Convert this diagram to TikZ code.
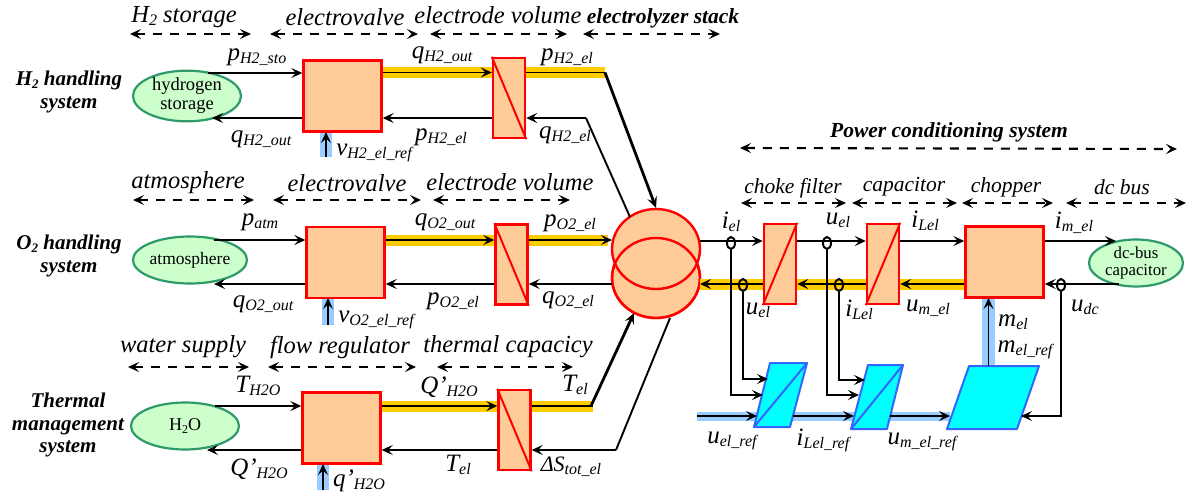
\documentclass[tikz,border=0pt]{standalone}
\usepackage{fontspec}
\setmainfont{Liberation Serif}
\usetikzlibrary{arrows.meta,shapes.geometric}
\definecolor{boxfill}{HTML}{FFCC99}
\definecolor{elfill}{HTML}{CCFFCC}
\definecolor{eldraw}{HTML}{2E9A6A}
\definecolor{band}{HTML}{FFCC00}
\definecolor{ctrl}{HTML}{99CCFF}
\definecolor{invfill}{HTML}{00FFFF}
\definecolor{invdraw}{HTML}{3366FF}
\newcommand\lb[2]{\textit{\fontsize{25}{25}\selectfont #1\raisebox{-3pt}{\fontsize{16}{16}\selectfont #2}}}
\tikzset{
  tip/.style={-{Stealth[length=11pt,width=10pt,inset=4.5pt]}},
  conn/.style={tip,line width=1.9pt,black},
  thick conn/.style={tip,line width=2.8pt,black},
  bigbox/.style={draw=red,fill=boxfill,line width=2.4pt,minimum width=78pt,minimum height=71pt,inner sep=0pt},
  narrow/.style={draw=red,fill=boxfill,line width=2.4pt,minimum width=32pt,minimum height=80pt,inner sep=0pt},
  env/.style={ellipse,draw=eldraw,fill=elfill,line width=2.2pt,minimum width=108pt,minimum height=47pt,inner sep=0pt,align=center,font=\fontsize{18.5}{19}\selectfont},
  sensor/.style={ellipse,draw=black,line width=2pt,minimum width=8pt,minimum height=12pt,inner sep=0pt},
  span/.style={{Stealth[length=11pt,width=10pt,inset=4.5pt]}-{Stealth[length=11pt,width=10pt,inset=4.5pt]},line width=2.1pt,dash pattern=on 9pt off 8pt,black},
  yband/.style={line width=11pt,band},
  cband/.style={line width=9pt,ctrl},
  redline/.style={draw=red,line width=2pt},
  inv/.style={draw=invdraw,fill=invfill,line width=2pt,line join=round},
  invline/.style={draw=invdraw,line width=2pt},
  head/.style={font=\itshape\fontsize{24.5}{24.5}\selectfont,inner sep=0pt},
  shead/.style={font=\itshape\fontsize{21.5}{21.5}\selectfont,inner sep=0pt},
  bhead/.style={font=\bfseries\itshape\fontsize{21.5}{21.5}\selectfont,inner sep=0pt},
  side/.style={font=\bfseries\itshape\fontsize{21}{22.5}\selectfont,align=center,inner sep=0pt},
  sig/.style={inner sep=0pt},
}
\begin{document}
\begin{tikzpicture}[x=1pt,y=-1pt]
\useasboundingbox[fill=white] (0,0) rectangle (1186,493);

% span arrows
\foreach \a/\b/\y in {130/251/34,270/418/34,430/567/34,583/720/34,
  133/254/200,273/421/200,433/570/200,
  128/249/367,268/416/367,437/573/367,
  741/846/203,852/957/203,962/1053/203,1066/1186/203}
  {\draw[span] (\a,\y) -- (\b,\y);}
\coordinate (pcsL) at (740,148);
\coordinate (pcsR) at (1177,149);
\draw[span] (pcsL) -- (pcsR);

% control stubs (behind the boxes)
\coordinate (s1) at (326,157);
\coordinate (s2) at (328,325);
\coordinate (s3) at (323,490);
\coordinate (cb0) at (697,416);
\coordinate (cb1) at (950,416);
\coordinate (cb2) at (988.5,366);
\coordinate (cb3) at (988.5,298);
\draw[line width=12pt,ctrl] (s1) -- (326,130);
\draw[line width=12pt,ctrl] (s2) -- (328,296);
\draw[line width=12pt,ctrl] (s3) -- (323,462);
\draw[cband] (cb0) -- (cb1);
\draw[line width=13pt,ctrl] (cb2) -- (cb3);

% boxes
\node[bigbox] (B1) at (342.5,96) {};
\node[narrow] (N1) at (509,98) {};
\node[bigbox] (B2) at (345.5,262.5) {};
\node[narrow] (N2) at (511.5,264.5) {};
\node[bigbox] (B3) at (341.5,428) {};
\node[narrow] (N3) at (514.5,430) {};
\node[narrow] (C1) at (780,264) {};
\node[narrow] (C2) at (883,264) {};
\node[bigbox] (CH) at (1004.5,262) {};

% storage ellipses
\node[env] (E1) at (187,96) {hydrogen\\storage};
\node[env,font=\fontsize{17.5}{18}\selectfont] (E2) at (190,260) {atmosphere};
\node[env,font=\fontsize{18}{18}\selectfont] (E3) at (185,426) {H\raisebox{-2.5pt}{\fontsize{12}{12}\selectfont 2}O};
\node[env,minimum width=94pt,minimum height=47pt,font=\fontsize{16.8}{17.5}\selectfont] (E4) at (1136,263) {dc-bus\\capacitor};

% electrolyzer
\node[ellipse,draw=red,fill=boxfill,line width=2.4pt,minimum width=88pt,minimum height=80pt,inner sep=0pt] (LO) at (656,278) {};
\node[ellipse,draw=red,fill=boxfill,line width=2.4pt,minimum width=88pt,minimum height=80pt,inner sep=0pt] (UP) at (656,249) {};
\draw[red,line width=2.4pt] (LO.center) ellipse (44 and 40);

% diagonals
\draw[redline] (N1.north west) -- (N1.south east);
\draw[redline] (N2.north west) -- (N2.south east);
\draw[redline] (N3.north west) -- (N3.south east);
\draw[redline] (C1.south west) -- (C1.north east);
\draw[redline] (C2.south west) -- (C2.north east);

% inverse blocks
\coordinate (P1bl) at (754,427); \coordinate (P1br) at (790,427);
\coordinate (P1tr) at (807,363); \coordinate (P1tl) at (770,363);
\coordinate (P2bl) at (851,429); \coordinate (P2br) at (887,429);
\coordinate (P2tr) at (903,365); \coordinate (P2tl) at (868,365);
\coordinate (P3bl) at (947,429); \coordinate (P3br) at (1017,429);
\coordinate (P3tr) at (1039,366); \coordinate (P3tl) at (969,366);
\draw[inv] (P1bl) -- (P1br) -- (P1tr) -- (P1tl) -- cycle;
\draw[invline] (P1bl) -- (P1tr);
\draw[inv] (P2bl) -- (P2br) -- (P2tr) -- (P2tl) -- cycle;
\draw[invline] (P2bl) -- (P2tr);
\draw[inv] (P3bl) -- (P3br) -- (P3tr) -- (P3tl) -- cycle;

% energy bands
\coordinate (Y1) at (605,72.5);
\coordinate (Y2) at (608,240);
\coordinate (Y3) at (593,406);
\coordinate (Y1i) at (586,118);
\coordinate (Y3i) at (616,450);
\coordinate (Y4) at (700,284);
\draw[yband] ([yshift=23.5pt]B1.east) -- ([yshift=25.5pt]N1.west);
\draw[yband] ([yshift=25.5pt]N1.east) -- (Y1);
\draw[yband] ([yshift=22.5pt]B2.east) -- ([yshift=24.5pt]N2.west);
\draw[yband] ([yshift=24.5pt]N2.east) -- (Y2);
\draw[yband] ([yshift=22pt]B3.east) -- ([yshift=24pt]N3.west);
\draw[yband] ([yshift=24pt]N3.east) -- (Y3);
\draw[yband] (Y4) -- ([yshift=-20pt]C1.west);
\draw[yband] ([yshift=-20pt]C1.east) -- ([yshift=-20pt]C2.west);
\draw[yband] ([yshift=-20pt]C2.east) -- ([yshift=-22pt]CH.west);

% row 1
\draw[conn] ([shift={(21,-23)}]E1.center) -- ([yshift=23pt]B1.west);
\draw[conn] ([yshift=-22pt]B1.west) -- ([shift={(25,22)}]E1.center);
\draw[conn] ([yshift=23.5pt]B1.east) -- ([yshift=25.5pt]N1.west);
\draw[conn] ([yshift=-20pt]N1.west) -- ([yshift=-22pt]B1.east);
\draw[line width=1.9pt] ([yshift=25.5pt]N1.east) -- (Y1);
\draw[thick conn] (Y1) -- (UP.north);
\draw[conn] (Y1i) -- ([yshift=-20pt]N1.east);
\draw[line width=1.9pt] (Y1i) -- (630,217);
\draw[conn] (s1) -- (326,132);
% row 2
\draw[conn] ([shift={(24,-20)}]E2.center) -- ([yshift=22.5pt]B2.west);
\draw[conn] ([yshift=-21.5pt]B2.west) -- ([shift={(24,24)}]E2.center);
\draw[conn] ([yshift=22.5pt]B2.east) -- ([yshift=24.5pt]N2.west);
\draw[conn] ([yshift=-19.5pt]N2.west) -- ([yshift=-21.5pt]B2.east);
\draw[conn] ([yshift=24.5pt]N2.east) -- (612,240);
\draw[conn] (612,284) -- ([yshift=-19.5pt]N2.east);
\draw[conn] (s2) -- (328,298);
% row 3
\draw[conn] ([shift={(30,-20)}]E3.center) -- ([yshift=22pt]B3.west);
\draw[conn] ([yshift=-22pt]B3.west) -- ([shift={(22,24)}]E3.center);
\draw[conn] ([yshift=22pt]B3.east) -- ([yshift=24pt]N3.west);
\draw[conn] ([yshift=-20pt]N3.west) -- ([yshift=-22pt]B3.east);
\draw[line width=1.9pt] ([yshift=24pt]N3.east) -- (Y3);
\draw[thick conn] (591,406) -- (634,313);
\draw[conn] (Y3i) -- ([yshift=-20pt]N3.east);
\draw[line width=1.9pt] (Y3i) -- (670,318);
\draw[conn] (s3) -- (323,464);

% power conditioning, forward
\draw[conn] (700,241) -- ([yshift=23pt]C1.west);
\draw[conn] ([yshift=23pt]C1.east) -- ([yshift=23pt]C2.west);
\draw[conn] ([yshift=23pt]C2.east) -- ([yshift=21pt]CH.west);
\draw[conn] ([yshift=21pt]CH.east) -- ([shift={(-20,-22)}]E4.center);
% power conditioning, return
\draw[conn] ([shift={(-17,21)}]E4.center) -- ([yshift=-22pt]CH.east);
\draw[conn] ([yshift=-22pt]CH.west) -- ([yshift=-20pt]C2.east);
\draw[conn] ([yshift=-20pt]C2.west) -- ([yshift=-20pt]C1.east);
\draw[conn] ([yshift=-20pt]C1.west) -- (Y4);

% sensors
\node[sensor] (S1) at (731,243) {};
\node[sensor] (S2) at (827,243) {};
\node[sensor] (S3) at (743,285) {};
\node[sensor] (S4) at (839,285) {};
\node[sensor] (S5) at (1061,285) {};
\coordinate (T1a) at (763,395); \coordinate (T1b) at (768,379);
\coordinate (T2a) at (859,395); \coordinate (T2b) at (865,380);
\coordinate (T3) at (1021,416);
\draw[conn] (S1.south) |- (T1a);
\draw[conn] (S3.south) |- (T1b);
\draw[conn] (S2.south) |- (T2a);
\draw[conn] (S4.south) |- (T2b);
\draw[conn] (S5.south) |- (T3);

% reference chain
\draw[conn] (cb0) -- (757,416);
\draw[conn] (793,416) -- (854,416);
\draw[conn] (890,416) -- (950,416);
\draw[conn] (cb2) -- (cb3);

% section headings
\node[head] (h1) at (184,17) {H\raisebox{-3pt}{\fontsize{16}{16}\selectfont 2} storage};
\node[head] (h2) at (345,17) {electrovalve};
\node[head] (h3) at (498,15) {electrode volume};
\node[bhead] (h4) at (663,18) {electrolyzer stack};
\node[head] (h5) at (188,183) {atmosphere};
\node[head] (h6) at (347,183) {electrovalve};
\node[head] (h7) at (510,182) {electrode volume};
\node[head] (h8) at (183,347) {water supply};
\node[head] (h9) at (340,347) {flow regulator};
\node[head] (h10) at (508,347) {thermal capacicy};
\node[bhead] (h11) at (949,132) {Power conditioning system};
\node[shead] (h12) at (793,188) {choke filter};
\node[shead] (h13) at (904,187) {capacitor};
\node[shead] (h14) at (1006,187) {chopper};
\node[shead] (h15) at (1122,187) {dc bus};
% system names
\node[side] (n1) at (69,92) {H\raisebox{-3pt}{\fontsize{13}{13}\selectfont 2} handling\\system};
\node[side] (n2) at (69,256) {O\raisebox{-3pt}{\fontsize{13}{13}\selectfont 2} handling\\system};
\node[side] (n3) at (68,425) {Thermal\\management\\system};
% signals row 1
\node[sig] (a1) at (257,57) {\lb{p}{H2\_sto}};
\node[sig] (a2) at (261,139) {\lb{q}{H2\_out}};
\node[sig] (a3) at (374,153) {\lb{v}{H2\_el\_ref}};
\node[sig] (a4) at (442,55) {\lb{q}{H2\_out}};
\node[sig] (a5) at (567,57) {\lb{p}{H2\_el}};
\node[sig] (a6) at (441,137) {\lb{p}{H2\_el}};
\node[sig] (a7) at (565,135) {\lb{q}{H2\_el}};
% signals row 2
\node[sig] (b1) at (260,222) {\lb{p}{atm}};
\node[sig] (b2) at (263,304) {\lb{q}{O2\_out}};
\node[sig] (b3) at (376,320) {\lb{v}{O2\_el\_ref}};
\node[sig] (b4) at (445,222) {\lb{q}{O2\_out}};
\node[sig] (b5) at (570,223) {\lb{p}{O2\_el}};
\node[sig] (b6) at (453,301) {\lb{p}{O2\_el}};
\node[sig] (b7) at (568,300) {\lb{q}{O2\_el}};
% signals row 3
\node[sig] (c1) at (258,386) {\lb{T}{H2O}};
\node[sig] (c2) at (259,469) {\lb{Q'}{H2O}};
\node[sig] (c3) at (359,481) {\lb{q'}{H2O}};
\node[sig] (c4) at (449,387) {\lb{Q'}{H2O}};
\node[sig] (c5) at (575,385) {\lb{T}{el}};
\node[sig] (c6) at (458,465) {\lb{T}{el}};
\node[sig] (c7) at (571,467) {\textit{\fontsize{22}{22}\selectfont ΔS\raisebox{-3pt}{\fontsize{16}{16}\selectfont tot\_el}}};
% signals power side
\node[sig] (d1) at (731,222) {\lb{i}{el}};
\node[sig] (d2) at (838,220) {\lb{u}{el}};
\node[sig] (d3) at (925,221) {\lb{i}{Lel}};
\node[sig] (d4) at (1074,223) {\lb{i}{m\_el}};
\node[sig] (d5) at (758,310) {\lb{u}{el}};
\node[sig] (d6) at (859,310) {\lb{i}{Lel}};
\node[sig] (d7) at (928,308) {\lb{u}{m\_el}};
\node[sig] (d8) at (1085,307) {\lb{u}{dc}};
\node[sig] (d9) at (1013,322) {\lb{m}{el}};
\node[sig] (d10) at (1025,350) {\lb{m}{el\_ref}};
\node[sig] (d11) at (732,441) {\lb{u}{el\_ref}};
\node[sig] (d12) at (823,440) {\lb{i}{Lel\_ref}};
\node[sig] (d13) at (922,442) {\lb{u}{m\_el\_ref}};
\end{tikzpicture}
\end{document}
